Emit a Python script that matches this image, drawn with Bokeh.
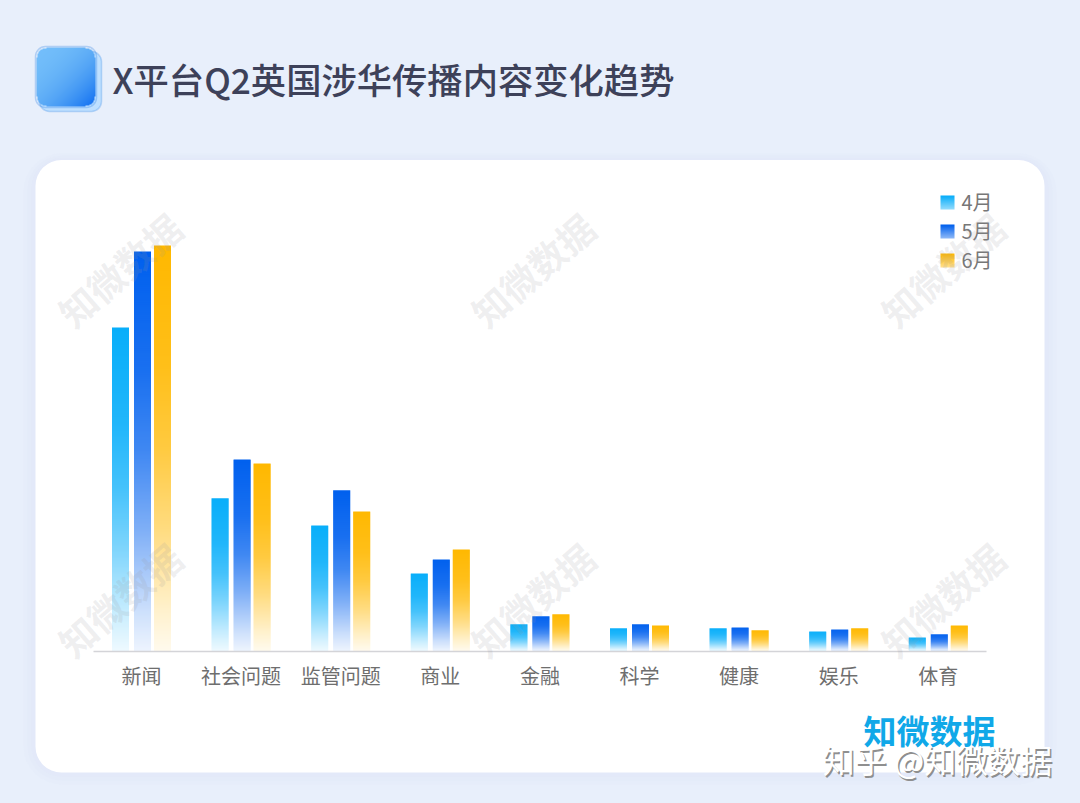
import numpy as np
from bokeh.embed import file_html
from bokeh.models import BoxAnnotation, ColumnDataSource, FixedTicker, Label, LinearAxis, Range1d
from bokeh.plotting import figure
from bokeh.resources import INLINE

categories = ["新闻", "社会问题", "监管问题", "商业", "金融", "科学", "健康", "娱乐", "体育"]
apr = [324, 153, 126, 78, 27, 23, 23, 20, 14]
may = [400, 192, 161, 92, 35, 27, 24, 22, 17]
jun = [406, 188, 140, 102, 37, 26, 21, 23, 26]
months = ["4月", "5月", "6月"]
colors = [(8, 174, 250), (0, 96, 238), (255, 184, 0)]
title = "X平台Q2英国涉华传播内容变化趋势"

W, H = 1080, 803
CX0, STEP, Y0 = 141.0, 99.6, 651


def X(px):
    return (px - CX0) / STEP


def Y(py):
    return Y0 - py


BG = "#e8effb"
CJK = "Noto Sans CJK SC"
p = figure(width=W, height=H, output_backend="svg", toolbar_location=None, min_border=0,
           x_range=Range1d(X(0), X(W)), y_range=Range1d(Y(H), Y(0)),
           x_axis_type=None, y_axis_type=None,
           background_fill_color=BG, border_fill_color=BG, outline_line_color=None)
p.grid.visible = False


def box(l, t, r, b, fill, alpha=1.0, radius=0, line=None, lw=1, level="underlay"):
    p.add_layout(BoxAnnotation(left=X(l), right=X(r), top=Y(t), bottom=Y(b), fill_color=fill,
                               fill_alpha=alpha, line_color=line, line_width=lw,
                               border_radius=radius, level=level, editable=False))


def label(text, px, py, size, color, bold=False, align="center", angle=0.0, alpha=1.0, font=CJK):
    p.add_layout(Label(x=X(px), y=Y(py), text=text, text_font=font, text_font_size=f"{size}px",
                       text_color=color, text_align=align, text_baseline="middle", angle=angle,
                       angle_units="deg", text_alpha=alpha,
                       text_font_style="bold" if bold else "normal"))


def mix(c, t):
    return "#%02x%02x%02x" % tuple(int(round(255 + (v - 255) * t)) for v in c)


# card with soft shadow
for grow, a in [(12, 0.10), (8, 0.14), (4, 0.18)]:
    box(35 - grow, 160 - grow * .6, 1044 + grow, 772 + grow, "#dbe5f8", a, 26 + grow)
box(35, 159.5, 1044, 772, "#ffffff", 1, 26)


# gradient bars: whole-pixel slices, each taken from the series value
def gradient_bars(values, offset, color, step=2):
    xs, bottoms, tops, fills = [], [], [], []
    for i, v in enumerate(values):
        for b in range(0, v, step):
            f = (b + step / 2) / v
            xs.append(i + offset)
            bottoms.append(b)
            tops.append(min(v, b + step + 1))
            fills.append(mix(color, float(np.interp(f, [0, .1, .3, .5, .7, 1], [.07, .2, .5, .75, .9, 1]))))
    order = np.arange(len(xs))[::-1]
    src = ColumnDataSource(dict(x=[xs[j] for j in order], bottom=[bottoms[j] for j in order],
                                top=[tops[j] for j in order], fill=[fills[j] for j in order]))
    p.vbar(x="x", bottom="bottom", top="top", width=17 / STEP, fill_color="fill",
           line_color=None, source=src)


for series, off, col in zip((apr, may, jun), (-21, 1, 21), colors):
    gradient_bars(series, off / STEP, col)

# category axis
axis = LinearAxis(ticker=FixedTicker(ticks=list(range(len(categories)))), fixed_location=0,
                  major_label_overrides={i: c for i, c in enumerate(categories)},
                  bounds=(X(93), X(986)), axis_line_color="#d4d4d8", axis_line_width=1.5,
                  major_tick_line_color=None, minor_tick_line_color=None,
                  major_label_text_font=CJK, major_label_text_font_size="20px",
                  major_label_text_color="#6e6e6e", major_label_standoff=3)
p.add_layout(axis, "below")


# legend
def gradient_image(l, t, r, b, rgba):
    p.image_rgba(image=[rgba], x=X(l), y=Y(b), dw=(r - l) / STEP, dh=b - t)


def swatch(c, bottom=0.45, n=14):
    arr = np.zeros((n, n), dtype=np.uint32)
    view = arr.view(dtype=np.uint8).reshape((n, n, 4))
    for j in range(n):  # row 0 is the bottom row
        t = j / (n - 1)
        a = bottom + (1 - bottom) * t
        for ch in range(3):
            view[j, :, ch] = int(255 + (c[ch] - 255) * a)
        view[j, :, 3] = 255
    return arr


for name, c, py in zip(months, colors, (201, 230, 259)):
    gradient_image(940, py - 6, 954, py + 8, swatch(c))
    label(name, 961, py, 20, "#777777", align="left")

# title icon
box(39, 51, 101, 111, "#bfe0ff", 1, 10, line="#3f8fe8", lw=1.5)
size = 59
icon = np.zeros((size, size), dtype=np.uint32)
iv = icon.view(dtype=np.uint8).reshape((size, size, 4))
yy, xx = np.mgrid[0:size, 0:size]
t = (xx / (size - 1) + (size - 1 - yy) / (size - 1)) / 2
r = 10
dx = np.maximum(np.maximum(r - xx, xx - (size - 1 - r)), 0)
dy = np.maximum(np.maximum(r - yy, yy - (size - 1 - r)), 0)
iv[..., 0] = (115 - 100 * t ** 2.2).astype(np.uint8)
iv[..., 1] = (190 - 80 * t ** 2.2).astype(np.uint8)
iv[..., 2] = (252 - 10 * t).astype(np.uint8)
iv[..., 3] = np.where(dx ** 2 + dy ** 2 <= r ** 2, 255, 0).astype(np.uint8)
gradient_image(36, 47, 95, 106, icon)
box(35, 46, 96, 107, "#000000", 0, 10, line="#2f80e6", lw=1.5, level="overlay")

label(title, 112, 77.5, 35.3, "#3d4159", font="Noto Sans CJK SC Medium", align="left")

# watermarks
for wx in (119, 532, 942):
    for wy in (269, 599):
        label("知微数据", wx, wy, 37, "#9a9aa0", bold=True, angle=41, alpha=0.17)

# logo and platform mark
label("知微数据", 929, 729, 33, "#10a8e8", bold=True)
label("知乎 @知微数据", 938.5, 760, 32, "#8f8f8f")
label("知乎 @知微数据", 937, 758.5, 32, "#ffffff")

open("out.html", "w").write(
    file_html(p, INLINE).replace("<head>", f"<head><style>html,body{{background:{BG}}}</style>", 1)
)
